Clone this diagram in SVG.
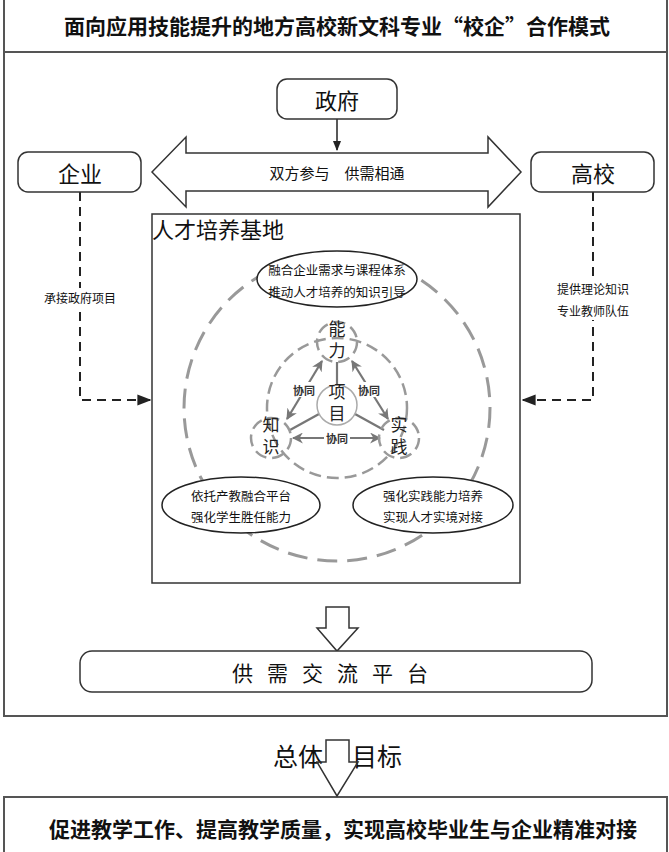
<svg xmlns="http://www.w3.org/2000/svg" width="669" height="852" viewBox="0 0 669 852">
<defs>
<style>
text{font-family:"Noto Sans CJK SC","Noto Sans",sans-serif;fill:#111;text-anchor:middle;dominant-baseline:central}
.frame{fill:none;stroke:#555;stroke-width:2}
.box{fill:#fff;stroke:#333;stroke-width:1.5}
.dash{fill:none;stroke:#222;stroke-width:2;stroke-dasharray:9 6}
.bigc{fill:none;stroke:#999;stroke-width:3;stroke-dasharray:20 10}
.smc{fill:none;stroke:#999;stroke-width:2.5;stroke-dasharray:12 6}
.ell{fill:#fff;stroke:#222;stroke-width:1.5}
.gl{stroke:#777;stroke-width:2.2;fill:none}
.t13{font-size:12.5px}
.t12{font-size:12px}
.t11{font-size:11px;font-weight:bold;fill:#333}
.tk{font-size:17px;fill:#222;writing-mode:vertical-rl;letter-spacing:5px}
</style>
<marker id="ah" viewBox="0 0 10 10" refX="9" refY="5" markerWidth="7" markerHeight="7" orient="auto-start-reverse">
<path d="M0,1 L10,5 L0,9 z" fill="#222"/>
</marker>
<marker id="ga" viewBox="0 0 10 10" refX="9" refY="5" markerWidth="5" markerHeight="5" orient="auto-start-reverse">
<path d="M0,0 L10,5 L0,10 L3,5 z" fill="#777"/>
</marker>
</defs>

<g id="frames">
<rect class="frame" x="4" y="-2" width="663" height="718"/>
<line x1="4" y1="52" x2="667" y2="52" stroke="#555" stroke-width="2"/>
<rect class="frame" x="4" y="797" width="663" height="60"/>
</g>

<g id="title"><text x="337" y="25" style="font-size:21px;font-weight:bold">面向应用技能提升的地方高校新文科专业“校企”合作模式</text></g>

<g id="connectors">
<line x1="337" y1="118" x2="337" y2="150" stroke="#222" stroke-width="1.5" marker-end="url(#ah)"/>
<polyline class="dash" points="80,192 80,400 150,400" marker-end="url(#ah)"/>
<polyline class="dash" points="593,192 593,400 523,400" marker-end="url(#ah)"/>
</g>

<g id="double-arrow">
<polygon class="box" points="152,172 186,137 186,153 488,153 488,137 521,172 488,207 488,191 186,191 186,207"/>
<text x="337" y="172" style="font-size:15px">双方参与　供需相通</text>
</g>

<g id="gov"><rect class="box" x="277" y="79" width="120" height="40" rx="10"/><text x="337" y="99" style="font-size:22px">政府</text></g>
<g id="ent"><rect class="box" x="18" y="152" width="123" height="40" rx="10"/><text x="80" y="172" style="font-size:22px">企业</text></g>
<g id="uni"><rect class="box" x="531" y="152" width="123" height="40" rx="10"/><text x="593" y="172" style="font-size:22px">高校</text></g>

<g id="label-ent"><rect x="34" y="288" width="92" height="18" fill="#fff"/><text class="t12" x="80" y="297">承接政府项目</text></g>
<g id="label-uni"><rect x="546" y="278" width="94" height="42" fill="#fff"/><text class="t12" x="593" y="288">提供理论知识</text><text class="t12" x="593" y="310">专业教师队伍</text></g>

<g id="base">
<rect x="152" y="214" width="368" height="369" fill="#fff" stroke="#333" stroke-width="1.5"/>
<text x="152" y="228" style="font-size:22px;text-anchor:start">人才培养基地</text>
<circle class="bigc" cx="337" cy="408" r="153"/>
<circle class="smc" cx="337" cy="408" r="70"/>
</g>

<g id="ell-top"><ellipse class="ell" cx="337" cy="279" rx="80" ry="28"/><text class="t13" x="337" y="269">融合企业需求与课程体系</text><text class="t13" x="337" y="291">推动人才培养的知识引导</text></g>
<g id="ell-left"><ellipse class="ell" cx="241" cy="505" rx="79" ry="28"/><text class="t13" x="241" y="495">依托产教融合平台</text><text class="t13" x="241" y="516">强化学生胜任能力</text></g>
<g id="ell-right"><ellipse class="ell" cx="433" cy="505" rx="80" ry="28"/><text class="t13" x="433" y="495">强化实践能力培养</text><text class="t13" x="433" y="516">实现人才实境对接</text></g>

<g id="inner-links">
<line class="gl" x1="337" y1="385" x2="337" y2="362"/>
<line class="gl" x1="319" y1="414" x2="290" y2="430"/>
<line class="gl" x1="355" y1="414" x2="384" y2="430"/>
<line class="gl" x1="287" y1="419" x2="322" y2="361" marker-start="url(#ga)" marker-end="url(#ga)"/>
<line class="gl" x1="352" y1="361" x2="388" y2="419" marker-start="url(#ga)" marker-end="url(#ga)"/>
<line class="gl" x1="293" y1="438" x2="380" y2="438" marker-start="url(#ga)" marker-end="url(#ga)"/>
<rect x="291" y="382" width="26" height="15" fill="#fff"/>
<text class="t11" x="304" y="390">协同</text>
<rect x="356" y="382" width="26" height="15" fill="#fff"/>
<text class="t11" x="369" y="390">协同</text>
<rect x="324" y="431" width="26" height="15" fill="#fff"/>
<text class="t11" x="337" y="438">协同</text>
</g>

<g id="ability"><circle class="smc" cx="337" cy="342" r="20"/><text class="tk" x="337" y="342">能力</text></g>
<g id="project"><circle cx="337" cy="405" r="20" fill="#fff" stroke="#aaa" stroke-width="1.5"/><text class="tk" x="337" y="405">项目</text></g>
<g id="knowledge"><circle class="smc" cx="271" cy="438" r="20"/><text class="tk" x="271" y="438">知识</text></g>
<g id="practice"><circle class="smc" cx="399" cy="438" r="20"/><text class="tk" x="399" y="438">实践</text></g>

<g id="arrow1"><polygon class="box" points="326,607 349,607 349,628 358,628 337,651 317,628 326,628"/></g>
<g id="platform"><rect class="box" x="80" y="651" width="512" height="41" rx="12"/><text x="337" y="672" style="font-size:21px;letter-spacing:14px">供需交流平台</text></g>

<g id="goal-label"><text x="298" y="755" style="font-size:25px">总体</text><text x="377" y="755" style="font-size:25px">目标</text></g>
<g id="arrow2"><polygon fill="none" stroke="#333" stroke-width="1.5" points="326,740 349,740 349,762 358,762 337,796 317,762 326,762"/></g>

<g id="goal"><text x="343" y="828" style="font-size:21px;font-weight:bold">促进教学工作、提高教学质量，实现高校毕业生与企业精准对接</text></g>
</svg>
